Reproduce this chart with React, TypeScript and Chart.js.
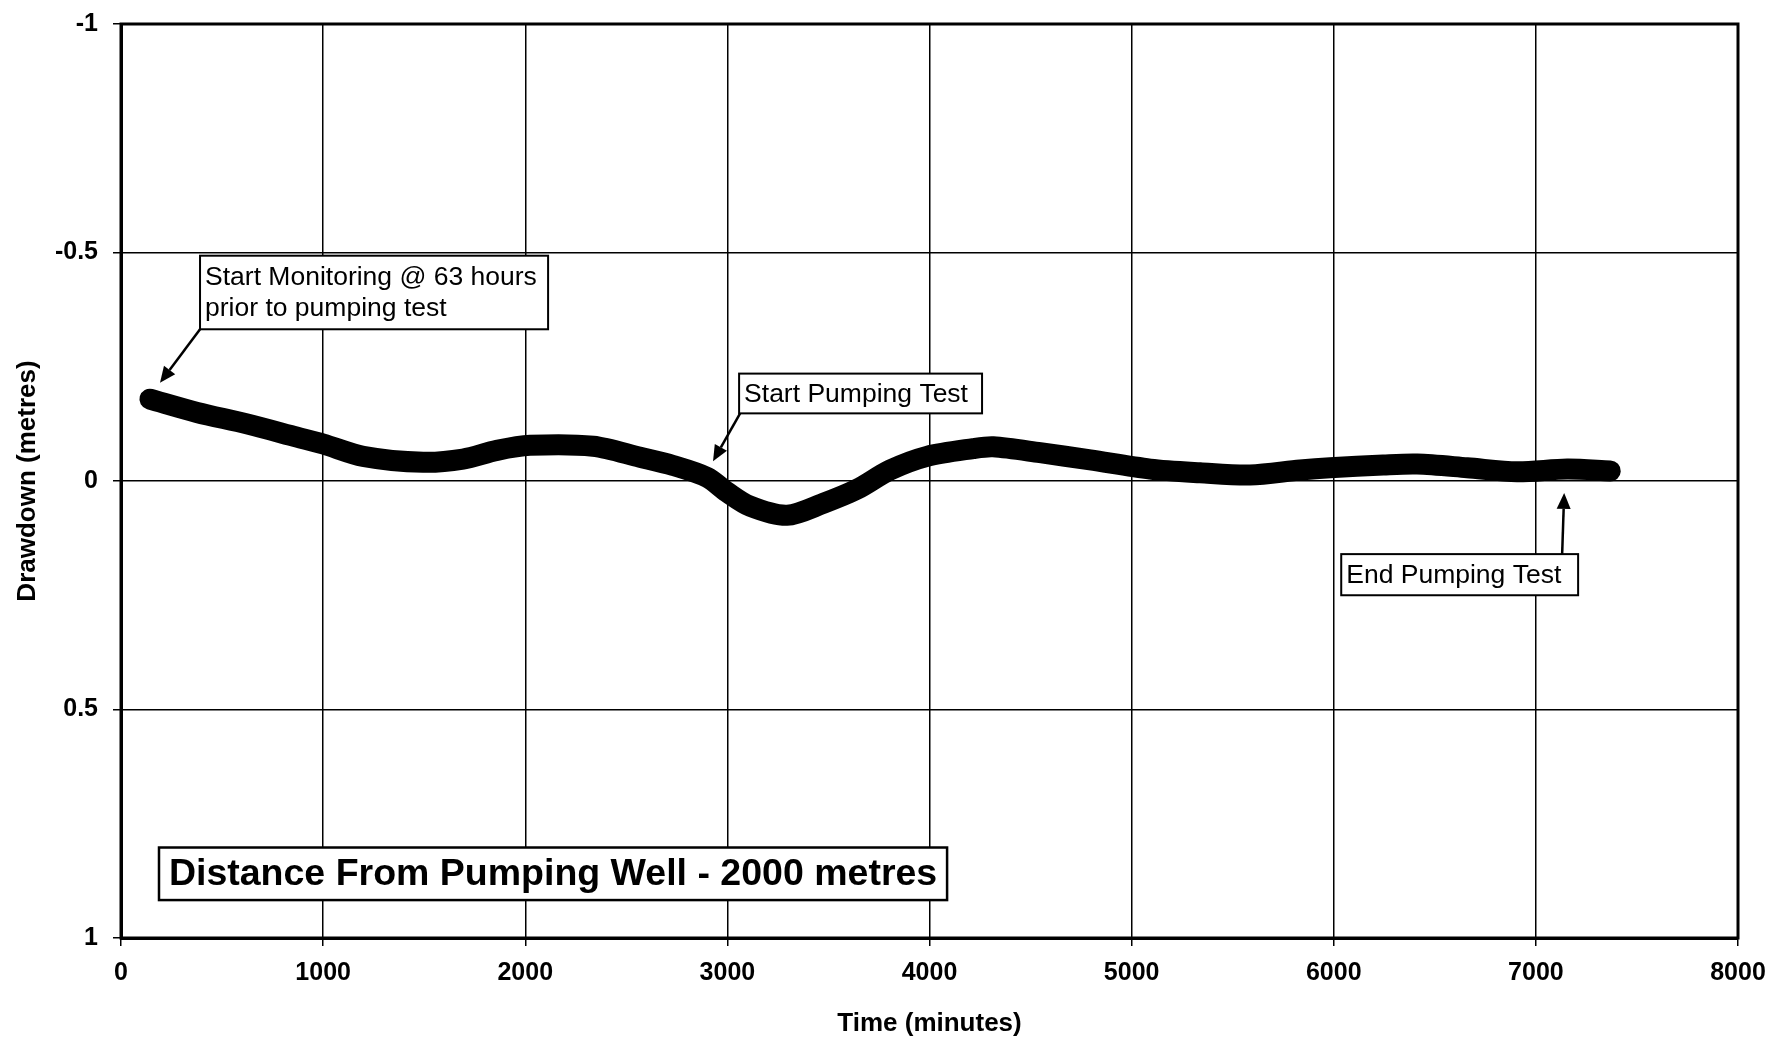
import React, { useEffect, useRef } from "react";
import { Chart, registerables } from "chart.js";

Chart.register(...registerables);

// ---- data ----
const timeMinutes = [
  143, 376, 623, 871, 1000, 1198, 1495, 1692, 1860, 2024, 2336, 2568, 2731, 2900,
  2998, 3112, 3295, 3474, 3642, 3805, 3988, 4216, 4315, 4547, 4795, 5092, 5339,
  5586, 5834, 5982, 6245, 6413, 6660, 6907, 7155, 7368,
];
const drawdownMetres = [
  -0.179, -0.15, -0.125, -0.096, -0.081, -0.054, -0.041, -0.048, -0.067, -0.078,
  -0.076, -0.052, -0.034, -0.008, 0.024, 0.055, 0.075, 0.049, 0.018, -0.024,
  -0.054, -0.071, -0.075, -0.062, -0.046, -0.026, -0.018, -0.013, -0.024, -0.029,
  -0.035, -0.037, -0.029, -0.02, -0.026, -0.022,
];
const xTickValues = [0, 1000, 2000, 3000, 4000, 5000, 6000, 7000, 8000];
const yTickValues = [-1, -0.5, 0, 0.5, 1];
const xAxisTitle = "Time (minutes)";
const yAxisTitle = "Drawdown (metres)";
const chartLabel = "Distance From Pumping Well - 2000 metres";

// annotation callouts, anchored in data space (minutes, metres)
const noteLines = [
  ["Start Monitoring @ 63 hours", "prior to pumping test"],
  ["Start Pumping Test"],
  ["End Pumping Test"],
];
const noteBoxes = [
  [391, -0.493, 2113, -0.332],
  [3058, -0.235, 4260, -0.148],
  [6037, 0.16, 7209, 0.25],
];
const noteArrowFrom = [
  [391, -0.332],
  [3063, -0.148],
  [7130, 0.16],
];
const noteArrowTo = [
  [193, -0.215],
  [2929, -0.043],
  [7140, 0.026],
];
const labelBox = [188, 0.802, 4087, 0.917];

const FONT = "'Liberation Sans', Arial, sans-serif";

function drawArrow(ctx: CanvasRenderingContext2D, x1: number, y1: number, x2: number, y2: number) {
  const ang = Math.atan2(y2 - y1, x2 - x1);
  const headLen = 16;
  const headW = 7;
  const bx = x2 - headLen * Math.cos(ang);
  const by = y2 - headLen * Math.sin(ang);
  ctx.beginPath();
  ctx.moveTo(x1, y1);
  ctx.lineTo(bx, by);
  ctx.lineWidth = 2.5;
  ctx.strokeStyle = "#000";
  ctx.stroke();
  ctx.beginPath();
  ctx.moveTo(x2, y2);
  ctx.lineTo(bx + headW * Math.sin(ang), by - headW * Math.cos(ang));
  ctx.lineTo(bx - headW * Math.sin(ang), by + headW * Math.cos(ang));
  ctx.closePath();
  ctx.fillStyle = "#000";
  ctx.fill();
}

const overlayPlugin = {
  id: "overlay",
  afterDatasetsDraw(chart: any) {
    const ctx: CanvasRenderingContext2D = chart.ctx;
    const xs = chart.scales.x;
    const ys = chart.scales.y;
    const ca = chart.chartArea;
    ctx.save();
    // plot frame
    ctx.strokeStyle = "#000";
    ctx.lineWidth = 3;
    ctx.strokeRect(ca.left, ca.top, ca.right - ca.left, ca.bottom - ca.top);

    // callouts
    noteLines.forEach((lines, i) => {
      const [bx1, by1, bx2, by2] = noteBoxes[i];
      const l = xs.getPixelForValue(bx1);
      const r = xs.getPixelForValue(bx2);
      const t = ys.getPixelForValue(by1);
      const b = ys.getPixelForValue(by2);
      const f = noteArrowFrom[i];
      const to = noteArrowTo[i];
      drawArrow(ctx, xs.getPixelForValue(f[0]), ys.getPixelForValue(f[1]), xs.getPixelForValue(to[0]), ys.getPixelForValue(to[1]));
      ctx.fillStyle = "#fff";
      ctx.fillRect(l, t, r - l, b - t);
      ctx.lineWidth = 2;
      ctx.strokeStyle = "#000";
      ctx.strokeRect(l, t, r - l, b - t);
      ctx.fillStyle = "#000";
      ctx.font = `26.5px ${FONT}`;
      ctx.textAlign = "left";
      ctx.textBaseline = "middle";
      const lh = 31;
      const cy = (t + b) / 2;
      lines.forEach((s, k) => {
        ctx.fillText(s, l + 5, cy + (k - (lines.length - 1) / 2) * lh + 1);
      });
    });

    // distance label box
    {
      const l = xs.getPixelForValue(labelBox[0]);
      const r = xs.getPixelForValue(labelBox[2]);
      const t = ys.getPixelForValue(labelBox[1]);
      const b = ys.getPixelForValue(labelBox[3]);
      ctx.fillStyle = "#fff";
      ctx.fillRect(l, t, r - l, b - t);
      ctx.lineWidth = 2.5;
      ctx.strokeStyle = "#000";
      ctx.strokeRect(l, t, r - l, b - t);
      ctx.fillStyle = "#000";
      ctx.font = `bold 37.5px ${FONT}`;
      ctx.textAlign = "center";
      ctx.textBaseline = "middle";
      ctx.fillText(chartLabel, (l + r) / 2, (t + b) / 2 + 1);
    }
    ctx.restore();
  },
};

export default function App() {
  const ref = useRef<HTMLCanvasElement | null>(null);
  useEffect(() => {
    if (!ref.current) return;
    const chart = new Chart(ref.current, {
      type: "line",
      data: {
        datasets: [
          {
            label: "Drawdown",
            data: timeMinutes.map((t, i) => ({ x: t, y: drawdownMetres[i] })),
            borderColor: "#000",
            backgroundColor: "#000",
            borderWidth: 21,
            borderCapStyle: "round",
            borderJoinStyle: "round",
            pointRadius: 0,
            tension: 0.3,
            fill: false,
          },
        ],
      },
      options: {
        responsive: false,
        animation: false,
        layout: { padding: { left: 0, right: 38, top: 24, bottom: 0 } },
        plugins: { legend: { display: false }, tooltip: { enabled: false } },
        scales: {
          x: {
            type: "linear",
            min: 0,
            max: 8000,
            afterBuildTicks: (s: any) => {
              s.ticks = xTickValues.map((v) => ({ value: v }));
            },
            afterFit: (s: any) => {
              s.height = 101;
              s.paddingLeft = 0;
              s.paddingRight = 0;
            },
            ticks: {
              color: "#000",
              font: { family: FONT, size: 25, weight: "bold" },
              padding: 12,
              maxRotation: 0,
              callback: (v: any) => String(v),
            },
            grid: { color: "#000", lineWidth: 1.5, tickLength: 8 },
            border: { display: true, color: "#000", width: 3 },
            title: {
              display: true,
              text: xAxisTitle,
              color: "#000",
              font: { family: FONT, size: 26, weight: "bold" },
              padding: 0,
            },
          },
          y: {
            type: "linear",
            min: -1,
            max: 1,
            reverse: true,
            afterBuildTicks: (s: any) => {
              s.ticks = yTickValues.map((v) => ({ value: v }));
            },
            afterFit: (s: any) => {
              s.width = 121;
              s.paddingTop = 0;
              s.paddingBottom = 0;
            },
            ticks: {
              color: "#000",
              font: { family: FONT, size: 25, weight: "bold" },
              padding: 15,
              callback: (v: any) => String(v),
            },
            grid: { color: "#000", lineWidth: 1.5, tickLength: 8 },
            border: { display: true, color: "#000", width: 3 },
            title: {
              display: true,
              text: yAxisTitle,
              color: "#000",
              font: { family: FONT, size: 26, weight: "bold" },
              padding: 12,
            },
          },
        },
      },
      plugins: [overlayPlugin],
    } as any);
    return () => chart.destroy();
  }, []);
  return (
    <div style={{ position: "fixed", left: 0, top: 0, width: 1776, height: 1039, background: "#fff" }}>
      <canvas ref={ref} width={1776} height={1039} style={{ display: "block", width: 1776, height: 1039 }} />
    </div>
  );
}
